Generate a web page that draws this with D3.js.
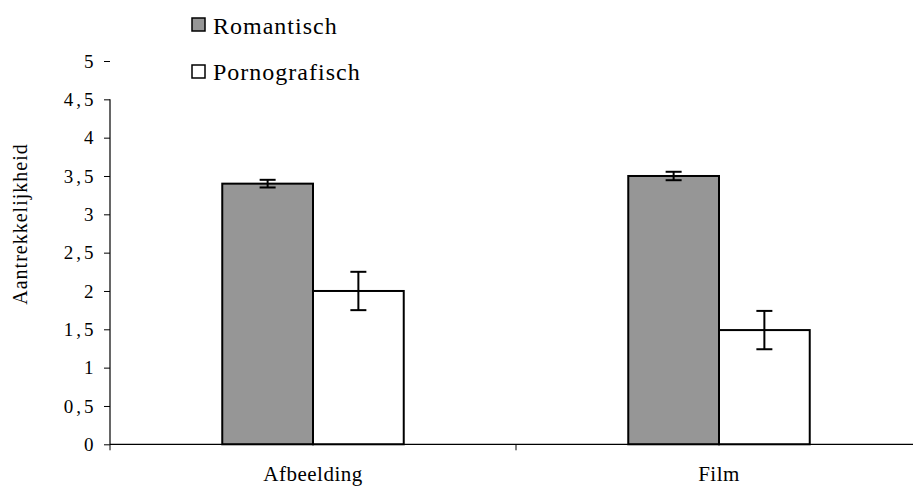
<!DOCTYPE html>
<html>
<head>
<meta charset="utf-8">
<script src="https://cdn.jsdelivr.net/npm/d3@7"></script>
<style>
  html, body { margin: 0; padding: 0; background: #fff; }
</style>
</head>
<body>
<svg id="chart" width="913" height="490"></svg>
<script>
const categories = ["Afbeelding", "Film"];
const series = ["Romantisch", "Pornografisch"];
const romantisch = [3.4, 3.5];
const pornografisch = [2.0, 1.49];
const errRomantisch = [0.05, 0.055];
const errPornografisch = [0.25, 0.25];
const yTicks = [0, 0.5, 1, 1.5, 2, 2.5, 3, 3.5, 4, 4.5, 5];
const yTickLabels = ["0", "0,5", "1", "1,5", "2", "2,5", "3", "3,5", "4", "4,5", "5"];
const yTitle = "Aantrekkelijkheid";

const values = [romantisch, pornografisch];
const errors = [errRomantisch, errPornografisch];
const fills = ["#969696", "#ffffff"];
const FONT = "Liberation Serif";

const svg = d3.select("#chart");

const y = d3.scaleLinear().domain([0, 5]).range([444.3, 61]);
const x0 = d3.scaleBand().domain(categories).range([110, 922]).padding(0);
const groupW = x0.bandwidth() * 0.447;
const x1 = d3.scaleBand().domain(series).range([0, groupW]).padding(0);
const off = (x0.bandwidth() - groupW) / 2;

// bars
categories.forEach((c, ci) => {
  series.forEach((s, si) => {
    const v = values[si][ci];
    const e = errors[si][ci];
    const bx = x0(c) + off + x1(s);
    svg.append("rect")
      .attr("x", bx).attr("y", y(v))
      .attr("width", x1.bandwidth()).attr("height", y(0) - y(v))
      .attr("fill", fills[si]).attr("stroke", "#000").attr("stroke-width", 2);
    const cx = bx + x1.bandwidth() / 2;
    const g = svg.append("g").attr("stroke", "#000").attr("stroke-width", 2);
    g.append("line").attr("x1", cx).attr("x2", cx).attr("y1", y(v + e)).attr("y2", y(v - e));
    g.append("line").attr("x1", cx - 8).attr("x2", cx + 8).attr("y1", y(v + e)).attr("y2", y(v + e));
    g.append("line").attr("x1", cx - 8).attr("x2", cx + 8).attr("y1", y(v - e)).attr("y2", y(v - e));
  });
});

// y axis
const yAxis = d3.axisLeft(y).tickValues(yTicks)
  .tickFormat((d, i) => yTickLabels[i]).tickSize(6).tickPadding(7.5);
const gy = svg.append("g").attr("transform", "translate(110,0)").call(yAxis);
gy.select(".domain").remove();
gy.selectAll(".tick line").attr("stroke", "#000").attr("stroke-width", 1);
gy.selectAll(".tick text")
  .style("font-family", FONT).style("font-size", "19px").style("letter-spacing", "3px")
  .attr("fill", "#000");
svg.append("line").attr("x1", 110).attr("x2", 110).attr("y1", y(0)).attr("y2", y(4.5))
  .attr("stroke", "#000").attr("stroke-width", 1.2);

// x axis
svg.append("line").attr("x1", 110).attr("x2", 913).attr("y1", y(0)).attr("y2", y(0))
  .attr("stroke", "#000").attr("stroke-width", 1.2);
const xTickPos = [x0.range()[0]].concat(categories.map(c => x0(c) + x0.bandwidth()));
xTickPos.forEach(p => {
  svg.append("line").attr("x1", p).attr("x2", p).attr("y1", y(0)).attr("y2", y(0) + 6)
    .attr("stroke", "#000").attr("stroke-width", 1);
});
categories.forEach(c => {
  svg.append("text").attr("x", x0(c) + x0.bandwidth() / 2).attr("y", 481)
    .attr("text-anchor", "middle")
    .style("font-family", FONT).style("font-size", "21px").style("letter-spacing", "0.5px")
    .text(c);
});

// y title
svg.append("text").attr("transform", "translate(27,224) rotate(-90)")
  .attr("text-anchor", "middle")
  .style("font-family", FONT).style("font-size", "20px").style("letter-spacing", "1px")
  .text(yTitle);

// legend
const legY = [18, 65];
const legBase = [34, 80];
series.forEach((s, si) => {
  svg.append("rect").attr("x", 192).attr("y", legY[si]).attr("width", 13).attr("height", 13)
    .attr("fill", fills[si]).attr("stroke", "#000").attr("stroke-width", 1.5);
  svg.append("text").attr("x", 213).attr("y", legBase[si])
    .style("font-family", FONT).style("font-size", "24px").style("letter-spacing", "1px")
    .text(s);
});
</script>
</body>
</html>
